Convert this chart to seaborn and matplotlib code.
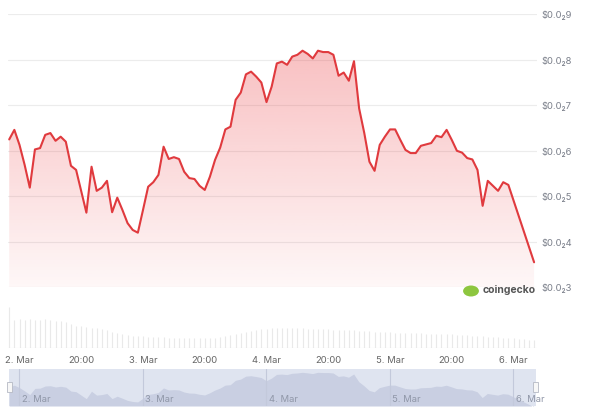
import numpy as np
import pandas as pd
import matplotlib
matplotlib.use("Agg")
import matplotlib.pyplot as plt
import seaborn as sns
from matplotlib.patches import Circle, Rectangle
from matplotlib.colors import LinearSegmentedColormap

# ---- data (price in units of $0.001, hours since 2 Mar 00:00) ----
hours = [-2, -1, 0, 1, 2, 3, 4, 5, 6, 7, 8, 9, 10, 11, 13, 14, 15, 16, 17, 18,
         19, 20, 21, 22, 23, 24, 25, 26, 27, 28, 29, 30, 31, 32, 33, 34, 35, 36,
         37, 38, 39, 40, 41, 42, 43, 44, 45, 46, 47, 48, 49, 50, 51, 52, 53, 54,
         55, 56, 57, 58, 59, 60, 61, 62, 63, 64, 65, 66, 67, 68, 69, 70, 71, 72,
         73, 74, 75, 76, 77, 78, 79, 80, 81, 82, 83, 84, 85, 86, 87, 88, 89, 90,
         91, 92, 93, 94, 95, 100]
price = [6.25, 6.46, 6.13, 5.69, 5.19, 6.03, 6.06, 6.35, 6.39, 6.22, 6.31, 6.20,
         5.67, 5.58, 4.64, 5.65, 5.12, 5.19, 5.34, 4.65, 4.97, 4.70, 4.41, 4.26,
         4.20, 4.70, 5.21, 5.31, 5.47, 6.09, 5.82, 5.86, 5.82, 5.54, 5.40, 5.38,
         5.23, 5.14, 5.43, 5.80, 6.07, 6.47, 6.53, 7.12, 7.28, 7.68, 7.74, 7.63,
         7.50, 7.07, 7.41, 7.92, 7.96, 7.89, 8.07, 8.11, 8.20, 8.13, 8.03, 8.20,
         8.17, 8.17, 8.11, 7.65, 7.72, 7.54, 7.97, 6.93, 6.39, 5.76, 5.56, 6.13,
         6.31, 6.47, 6.47, 6.24, 6.02, 5.95, 5.95, 6.11, 6.14, 6.17, 6.33, 6.30,
         6.46, 6.24, 6.00, 5.96, 5.84, 5.81, 5.58, 4.79, 5.34, 5.23, 5.12, 5.31,
         5.25, 3.55]
vol_hours = list(range(-2, 101))
volume = [41, 28, 29, 28, 29, 28, 28, 29, 28, 27, 27, 26, 24, 22, 22, 21, 20, 20,
          19, 18, 16, 15, 14, 13, 12, 12, 12, 11, 11, 11, 11, 10, 10, 10, 10, 10,
          10, 10, 10, 10, 10, 11, 12, 13, 14, 15, 16, 17, 18, 19, 19, 20, 20, 20,
          20, 20, 20, 20, 19, 19, 19, 19, 19, 18, 18, 18, 18, 18, 17, 17, 17, 16,
          16, 16, 16, 15, 15, 15, 15, 15, 15, 14, 14, 14, 14, 14, 14, 13, 13, 13,
          12, 12, 12, 11, 11, 11, 10, 10, 10, 9, 9, 8, 8]
tick_hours = [0, 12, 24, 36, 48, 60, 72, 84, 96]
tick_labels = ["2. Mar", "20:00", "3. Mar", "20:00", "4. Mar", "20:00",
               "5. Mar", "20:00", "6. Mar"]
nav_hours = [0, 24, 48, 72, 96]
nav_labels = ["2. Mar", "3. Mar", "4. Mar", "5. Mar", "6. Mar"]
y_ticks = [3, 4, 5, 6, 7, 8, 9]
y_labels = ["$0.0\u20823", "$0.0\u20824", "$0.0\u20825", "$0.0\u20826",
            "$0.0\u20827", "$0.0\u20828", "$0.0\u20829"]

sns.set_style("white")
plt.rcParams['font.family'] = ['Inter', 'DejaVu Sans']

W, H = 600, 417
fig = plt.figure(figsize=(W / 100, H / 100), dpi=100)

def px_rect(x0, y0, x1, y1):
    return [x0 / W, 1 - y1 / H, (x1 - x0) / W, (y1 - y0) / H]

x_lo = (8 - 19.5) / 5.146
x_hi = (536.5 - 19.5) / 5.146

# ---- main price axes ----
ax = fig.add_axes(px_rect(8, 14.3, 536.5, 287.3))
ax.set_xlim(x_lo, x_hi)
ax.set_ylim(3, 9)
df = pd.DataFrame({"hour": hours, "price": price})

poly = ax.fill_between(hours, price, 3, color="none", lw=0)
red = np.array([235, 55, 60]) / 255
cmap = LinearSegmentedColormap.from_list(
    "g", [(*red, 0.04), (*red, 0.32)])
grad = np.linspace(0, 1, 256).reshape(-1, 1)
im = ax.imshow(grad, aspect="auto", cmap=cmap, origin="lower",
               extent=[x_lo, x_hi, 3, 8.3], zorder=1)
im.set_clip_path(poly.get_paths()[0], transform=ax.transData)

sns.lineplot(data=df, x="hour", y="price", ax=ax, color="#e03a3e",
             linewidth=1.5, zorder=3)
ax.set_yticks(y_ticks)
ax.set_yticklabels(y_labels)
ax.yaxis.tick_right()
ax.tick_params(axis="y", length=0, pad=3.2, labelsize=6.8, labelcolor="#7a7f8a")
ax.set_xticks([])
ax.set_xlabel("")
ax.set_ylabel("")
ax.grid(axis="y", color="#ececec", lw=0.8)
ax.set_axisbelow(True)
for s in ax.spines.values():
    s.set_visible(False)

# ---- volume axes ----
axv = fig.add_axes(px_rect(8, 300, 536.5, 348.3))
axv.set_xlim(x_lo, x_hi)
axv.set_ylim(0, 48.3)
axv.vlines(vol_hours, 0, volume, color="#e9e9e9", lw=0.8)
axv.axhline(0, color="#e8e8e8", lw=0.8)
axv.set_xticks(tick_hours)
axv.set_xticklabels(tick_labels)
axv.tick_params(axis="x", length=3, width=0.7, color="#d5d9e3", pad=2.5,
                labelsize=6.8, labelcolor="#666666")
axv.set_yticks([])
for s in axv.spines.values():
    s.set_visible(False)

# ---- navigator ----
axn = fig.add_axes(px_rect(9.3, 369, 536, 406))
axn.set_xlim(x_lo + (9.3 - 8) / 5.146, x_hi)
axn.set_ylim(3.65, 8.65)
axn.set_facecolor("#dfe4f0")
axn.fill_between(hours, price, 3.65, color="#c9cfe2", lw=0)
for h, lab in zip(nav_hours, nav_labels):
    axn.axvline(h, color="#c3c9db", lw=0.8)
    axn.text(h + 0.5, 3.9, lab, fontsize=6.8, color="#9097a8",
             ha="left", va="bottom")
axn.set_xticks([])
axn.set_yticks([])
for s in axn.spines.values():
    s.set_visible(False)

# navigator handles
for hx in (7, 533):
    fig.patches.append(Rectangle((hx / W, 1 - 392 / H), 5 / W, 10 / H,
                                 transform=fig.transFigure, facecolor="#f7f7f7",
                                 edgecolor="#b5b9c4", lw=0.6))

# ---- coingecko mark ----
fig.patches.append(Circle((471 / W, 1 - 291 / H), 5.5 / H,
                          transform=fig.transFigure, facecolor="#8dc63f",
                          edgecolor="none"))
fig.text(483 / W, 1 - 290 / H, "coingecko", fontsize=7.5, fontweight="bold",
         color="#555555", ha="left", va="center")

fig.savefig("out.png", dpi=100)
